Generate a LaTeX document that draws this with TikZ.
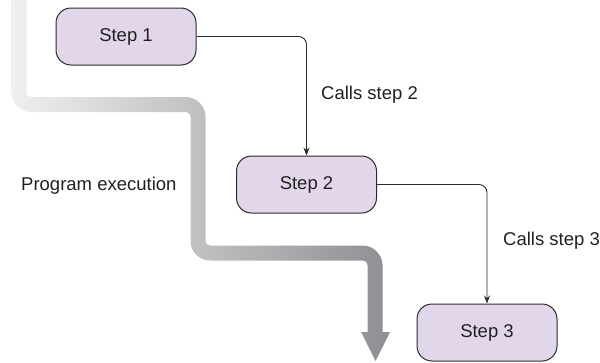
\documentclass[tikz,border=0pt]{standalone}
\usepackage{fontspec}
\setmainfont{Liberation Sans}
\usetikzlibrary{arrows.meta}
\definecolor{boxfill}{HTML}{E2D7EA}
\definecolor{boxline}{HTML}{2B2B2B}
\definecolor{flowlight}{HTML}{F0F0F0}
\definecolor{flowdark}{HTML}{8E8F93}
\definecolor{txt}{HTML}{231F20}
\begin{document}
\begin{tikzpicture}[x=1pt,y=-1pt,
  stepbox/.style={draw=boxline, fill=boxfill, line width=1pt, rounded corners=15pt,
    minimum width=140pt, minimum height=57pt, inner sep=0pt,
    font=\fontsize{18.5}{22}\selectfont, text=txt},
  lbl/.style={anchor=west, inner sep=0pt, font=\fontsize{18.5}{22}\selectfont, text=txt},
  conn/.style={draw=boxline, line width=0.9pt, rounded corners=8pt,
    -{Stealth[length=8pt,width=6pt]}}]
\useasboundingbox (0,0) rectangle (600,362);
% program execution flow band
\shade[left color=flowlight, right color=flowdark]
  (11.5,0) -- (11.5,92.5)
  .. controls (11.5,103.27) and (20.23,112) .. (31,112)
  -- (186,112)
  .. controls (188.49,112) and (190.5,114.49) .. (190.5,116.5)
  -- (190.5,241)
  .. controls (190.5,251.77) and (199.23,260.5) .. (210,260.5)
  -- (363,260.5)
  .. controls (365.49,260.5) and (367.5,262.49) .. (367.5,265)
  -- (367.5,332) -- (361,332) -- (375.5,361) -- (390,332) -- (382.5,332)
  -- (382.5,265)
  .. controls (382.5,254.73) and (373.27,245.5) .. (363,245.5)
  -- (210,245.5)
  .. controls (207.51,245.5) and (205.5,243.49) .. (205.5,241)
  -- (205.5,116.5)
  .. controls (205.5,106.23) and (196.23,97) .. (186,97)
  -- (31,97)
  .. controls (28.51,97) and (26.5,94.99) .. (26.5,92.5)
  -- (26.5,0) -- cycle;
% steps
\node[stepbox] (s1) at (126,36.5) {Step 1};
\node[stepbox] (s2) at (306.5,184.5) {Step 2};
\node[stepbox] (s3) at (487,332.5) {Step 3};
% connectors
\draw[conn] (s1.east) -| (s2.north);
\draw[conn] (s2.east) -| (s3.north);
% labels
\node[lbl] (l1) at (321,95) {Calls step 2};
\node[lbl] (l2) at (503,241) {Calls step 3};
\node[lbl] (l3) at (21,186) {Program execution};
\end{tikzpicture}
\end{document}
